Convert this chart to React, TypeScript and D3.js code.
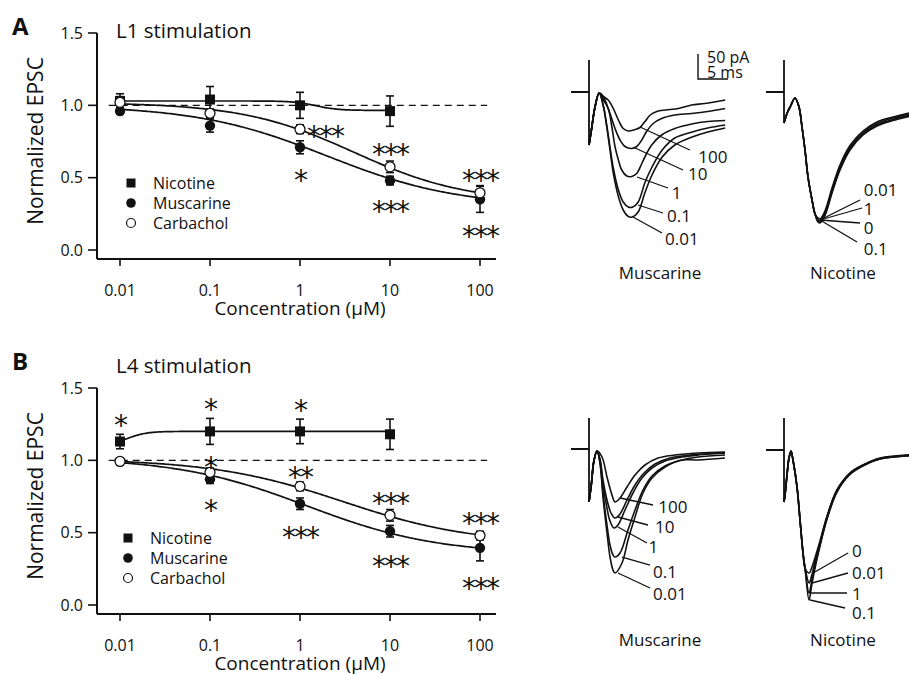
import React from "react";
import * as d3 from "d3";

const FONT = "'Open Sans', sans-serif";

// dose-response data (concentration in µM)
const concentrations = [0.01, 0.1, 1, 10, 100];
const xTickLabels = ["0.01", "0.1", "1", "10", "100"];
const yTicks = [0, 0.5, 1, 1.5];
const yTickLabels = ["0.0", "0.5", "1.0", "1.5"];
const seriesNames = ["Nicotine", "Muscarine", "Carbachol"];

const l1Nicotine = [1.03, 1.04, 1.0, 0.96];
const l1NicotineErr = [0.05, 0.09, 0.09, 0.105];
const l1Muscarine = [0.96, 0.86, 0.71, 0.48, 0.35];
const l1MuscarineErr = [0.02, 0.045, 0.045, 0.03, 0.09];
const l1Carbachol = [1.02, 0.945, 0.835, 0.575, 0.395];
const l1CarbacholErr = [0.04, 0.03, 0.03, 0.04, 0.05];
// fit parameters: [value at low conc, value at high conc, EC50, hill]
const l1Fits = [
  [1.03, 0.965, 1.5, 3.5],
  [1.0, 0.3, 2, 0.6],
  [1.02, 0.33, 4, 0.7],
];
const l1Stars: [number, number, string, string][] = [
  [1, 0.83, "***", "start"],
  [1, 0.53, "*", "middle"],
  [10, 0.705, "***", "middle"],
  [10, 0.31, "***", "middle"],
  [100, 0.53, "***", "middle"],
  [100, 0.14, "***", "middle"],
];

const l4Nicotine = [1.13, 1.2, 1.2, 1.18];
const l4NicotineErr = [0.05, 0.09, 0.085, 0.105];
const l4Muscarine = [0.99, 0.87, 0.7, 0.51, 0.395];
const l4MuscarineErr = [0.02, 0.03, 0.04, 0.04, 0.09];
const l4Carbachol = [0.993, 0.917, 0.82, 0.62, 0.48];
const l4CarbacholErr = [0.02, 0.03, 0.03, 0.04, 0.03];
const l4Fits = [
  [1.1, 1.2, 0.012, 4],
  [1.02, 0.35, 1.2, 0.6],
  [1.01, 0.42, 3, 0.6],
];
const l4Stars: [number, number, string, string][] = [
  [0.01, 1.285, "*", "middle"],
  [0.1, 1.4, "*", "middle"],
  [0.1, 0.998, "*", "middle"],
  [0.1, 0.7, "*", "middle"],
  [1, 1.39, "*", "middle"],
  [1, 0.93, "**", "middle"],
  [1, 0.51, "***", "middle"],
  [10, 0.745, "***", "middle"],
  [10, 0.315, "***", "middle"],
  [100, 0.61, "***", "middle"],
  [100, 0.16, "***", "middle"],
];

// example EPSC traces: [time ms, current pA]
const muscL1Onset = [[-3, 0], [-0.15, 0], [0, 0], [0, 64], [0, -106]];
const muscL1Start = [[0, -106], [0.4, -76], [1.0, -30], [1.7, -2]];
const muscL1Labels = ["100", "10", "1", "0.1", "0.01"];
const muscL1Traces = [
  [[2.4, -9], [3.2, -16], [4.05, -33], [4.9, -56], [5.7, -73], [6.55, -78], [7.67, -75], [8.5, -71], [9.33, -59], [10.2, -46], [11.3, -39], [12.7, -36], [14.9, -33], [17.1, -26], [19.3, -23], [22.7, -16]],
  [[2.4, -10], [3.5, -43], [4.33, -73], [5.17, -96], [6, -109], [7.1, -113], [7.95, -109], [8.8, -96], [9.6, -79], [10.7, -63], [12.1, -53], [14.3, -46], [17.1, -43], [19.8, -39], [22.7, -33]],
  [[2.4, -16], [3.2, -33], [3.8, -69], [4.33, -109], [4.9, -136], [5.45, -156], [6.3, -168], [7.1, -169], [7.95, -163], [8.8, -143], [9.6, -123], [10.45, -106], [12.1, -86], [14.3, -73], [17.1, -64], [19.8, -59], [22.7, -57]],
  [[2.4, -28], [2.95, -66], [3.5, -110], [4.05, -152], [4.9, -196], [5.7, -220], [6.55, -230], [7.3, -230], [8.2, -220], [9.3, -182], [10.5, -150], [12.2, -116], [14.3, -92], [17.2, -80], [19.8, -72], [22.7, -66]],
  [[2.4, -29], [2.95, -69], [3.5, -116], [4.05, -162], [4.9, -209], [5.7, -236], [6.55, -249], [7.2, -250], [8.2, -240], [9.3, -202], [10.5, -166], [12.2, -130], [14.3, -106], [17.2, -90], [19.8, -80], [22.7, -72]],
];
const muscL1Leaders = [[8.5, -70, 16.8, -116], [7.67, -112, 15.67, -156], [8, -170, 13.17, -192], [8.17, -226, 12.33, -242], [7.33, -250, 12.17, -282]];
const muscL1LabelPos = [[18.2, -128], [16.5, -162], [13.8, -200], [13, -246], [12.67, -292]];

const nicL1Onset = [[-3, 0], [-0.15, 0], [0, 0], [0, 64], [0, -62]];
const nicL1Start = [[0, -62], [0.6, -40], [1.1, -28], [1.83, -12], [2.5, -30], [3, -70], [3.5, -116], [4, -170], [4.67, -216], [5.17, -244]];
const nicL1Labels = ["0.01", "1", "0", "0.1"];
const nicL1Traces = [
  [[5.67, -252], [6, -254], [6.83, -238], [8, -192], [9.33, -146], [11, -107], [13.17, -78], [15.5, -60], [18.17, -50], [21.5, -40]],
  [[5.67, -256], [6, -258], [6.83, -242], [8, -197], [9.33, -151], [11, -111], [13.17, -81], [15.5, -63], [18.17, -52], [21.5, -42]],
  [[5.67, -258], [6, -260], [6.83, -245], [8, -200], [9.33, -154], [11, -114], [13.17, -84], [15.5, -66], [18.17, -55], [21.5, -45]],
  [[5.67, -260], [6, -262], [6.83, -247], [8, -202], [9.33, -156], [11, -116], [13.17, -86], [15.5, -68], [18.17, -57], [21.5, -47]],
];
const nicL1Leaders = [[6, -256, 12.67, -216], [6, -256, 13, -232], [6, -256, 12.67, -262], [6, -256, 12.17, -300]];
const nicL1LabelPos = [[13.3, -194], [13.3, -232], [13.3, -270], [13.3, -312]];

const muscL4Onset = [[-3, 0], [-0.15, 0], [0, 0], [0, 62], [0, -106]];
const muscL4Start = [[0, -106], [0.4, -70], [0.8, -25], [1.33, -4]];
const muscL4Labels = ["100", "10", "1", "0.1", "0.01"];
const muscL4Traces = [
  [[2.17, -16], [3, -56], [3.83, -92], [4.33, -106], [5.17, -98], [6.33, -76], [7.67, -52], [9.33, -32], [11.5, -18], [14.33, -12], [18.17, -8], [22.67, -6]],
  [[1.83, -20], [2.33, -62], [3, -102], [3.67, -128], [4.33, -138], [5.17, -130], [6.33, -102], [7.67, -72], [9.17, -48], [11, -30], [13.5, -18], [16.83, -12], [22.67, -8]],
  [[1.83, -22], [2.33, -72], [3, -118], [3.5, -144], [4.17, -158], [4.83, -152], [6, -122], [7.33, -88], [8.83, -58], [10.5, -38], [12.67, -24], [15.5, -16], [18.17, -12], [22.67, -8]],
  [[1.83, -26], [2.33, -88], [3, -152], [3.5, -192], [4, -212], [4.33, -216], [5.17, -208], [6.5, -162], [7.67, -122], [9, -82], [10.5, -54], [12.67, -34], [15.5, -22], [18.17, -16], [22.67, -12]],
  [[1.83, -28], [2.33, -96], [3, -168], [3.5, -216], [4, -242], [4.33, -248], [5.5, -228], [6.5, -182], [7.67, -136], [9, -88], [10.5, -58], [12.67, -36], [15.5, -22], [18.17, -22], [22.67, -18]],
];
const muscL4Leaders = [[5.17, -98, 10.67, -112], [4.83, -136, 9.83, -152], [4.83, -156, 9.67, -188], [5.5, -216, 10.17, -232], [4.83, -248, 10.17, -278]];
const muscL4LabelPos = [[11.55, -115], [11, -155], [9.9, -195], [10.67, -245], [10.67, -289]];

const nicL4Onset = [[-3, 0], [-0.15, 0], [0, 0], [0, 64], [0, -104]];
const nicL4Start = [[0, -104], [0.17, -90], [0.5, -50], [0.83, -16], [1.17, -2], [1.5, -20], [2.17, -74], [2.67, -140], [3.17, -206], [3.5, -236]];
const nicL4Labels = ["0", "0.01", "1", "0.1"];
const nicL4Traces = [
  [[4.2, -246], [4.6, -236], [5.0, -222], [6, -182], [7.17, -132], [8.83, -80], [11, -46], [13.17, -30], [16, -16], [21.5, -9]],
  [[4.2, -266], [4.6, -252], [5.0, -232], [6, -186], [7.17, -134], [8.83, -80], [11, -46], [13.17, -30], [16, -17], [21.5, -10]],
  [[4.17, -286], [4.6, -264], [5.0, -240], [6, -190], [7.17, -137], [8.83, -83], [11, -48], [13.17, -31], [16, -18], [21.5, -11]],
  [[4.17, -300], [4.6, -272], [5.0, -246], [6, -192], [7.17, -138], [8.83, -84], [11, -49], [13.17, -32], [16, -18], [21.5, -11]],
];
const nicL4Leaders = [[4.83, -246, 10.67, -206], [4.67, -266, 10.67, -246], [4.33, -286, 10.5, -286], [4.33, -300, 10.17, -316]];
const nicL4LabelPos = [[11.33, -200], [11.33, -244], [11.33, -286], [11.33, -324]];

// scale bar: 5 ms, 50 pA
const scaleBarMs = 5;
const scaleBarPA = 50;

const hill = (c: number, p: number[]) => p[1] + (p[0] - p[1]) / (1 + Math.pow(c / p[2], p[3]));

function DoseResponse(props: any) {
  const { offsetY, letter, letterY, title, titleY, nic, nicErr, musc, muscErr, carb, carbErr, fits, stars, legendX } = props;
  const x = d3.scaleLog().domain([0.01, 100]).range([120, 480]);
  const y = d3.scaleLinear().domain([0, 1.5]).range([250, 33]);
  const axisY = 259;
  const axisX = 97;
  const curvePath = (p: number[], maxC: number) => {
    const n = 200;
    const pts = d3.range(n + 1).map((i) => Math.pow(10, -2 + (i * (Math.log10(maxC) + 2)) / n));
    return d3.line<number>().x((c) => x(c)).y((c) => y(hill(c, p)))(pts) as string;
  };
  const errBar = (c: number, v: number, e: number, k: string) => (
    <g key={k} stroke="#111" strokeWidth={1.6}>
      <line x1={x(c)} x2={x(c)} y1={y(v + e)} y2={y(v - e)} />
      <line x1={x(c) - 4} x2={x(c) + 4} y1={y(v + e)} y2={y(v + e)} />
      <line x1={x(c) - 4} x2={x(c) + 4} y1={y(v - e)} y2={y(v - e)} />
    </g>
  );
  const starFs = 28;
  return (
    <g transform={`translate(0,${offsetY})`} fontFamily={FONT}>
      <text x={12} y={letterY} fontSize={24} fontWeight="bold" fill="#111">{letter}</text>
      <text x={116} y={titleY} fontSize={20.5} fill="#111">{title}</text>
      <text transform={`translate(43,141) rotate(-90)`} textAnchor="middle" fontSize={21} fill="#111">Normalized EPSC</text>
      <text x={(120 + 480) / 2} y={315} textAnchor="middle" fontSize={19} fill="#111">Concentration (µM)</text>
      {/* axes */}
      <line x1={axisX} x2={axisX} y1={y(1.5)} y2={axisY} stroke="#111" strokeWidth={2} />
      <line x1={axisX} x2={496} y1={axisY} y2={axisY} stroke="#111" strokeWidth={2} />
      {yTicks.map((t, i) => (
        <g key={"yt" + i}>
          <line x1={axisX - 9} x2={axisX} y1={y(t)} y2={y(t)} stroke="#111" strokeWidth={1.6} />
          <text x={83} y={y(t) + 5.5} textAnchor="end" fontSize={16} fill="#111">{yTickLabels[i]}</text>
        </g>
      ))}
      {concentrations.map((c, i) => (
        <g key={"xt" + i}>
          <line x1={x(c)} x2={x(c)} y1={axisY} y2={axisY + 7} stroke="#111" strokeWidth={1.6} />
          <text x={x(c)} y={296} textAnchor="middle" fontSize={16} fill="#111">{xTickLabels[i]}</text>
        </g>
      ))}
      {/* reference */}
      <line x1={x(0.0075)} x2={x(120)} y1={y(1)} y2={y(1)} stroke="#111" strokeWidth={1.4} strokeDasharray="7 5" />
      {/* fits */}
      <path d={curvePath(fits[0], 10)} fill="none" stroke="#111" strokeWidth={1.7} />
      <path d={curvePath(fits[1], 100)} fill="none" stroke="#111" strokeWidth={1.7} />
      <path d={curvePath(fits[2], 100)} fill="none" stroke="#111" strokeWidth={1.7} />
      {/* error bars */}
      {nic.map((v: number, i: number) => errBar(concentrations[i], v, nicErr[i], "en" + i))}
      {musc.map((v: number, i: number) => errBar(concentrations[i], v, muscErr[i], "em" + i))}
      {carb.map((v: number, i: number) => errBar(concentrations[i], v, carbErr[i], "ec" + i))}
      {/* markers */}
      {nic.map((v: number, i: number) => (
        <rect key={"n" + i} x={x(concentrations[i]) - 5} y={y(v) - 5} width={10} height={10} fill="#111" />
      ))}
      {musc.map((v: number, i: number) => (
        <circle key={"m" + i} cx={x(concentrations[i])} cy={y(v)} r={5.2} fill="#111" />
      ))}
      {carb.map((v: number, i: number) => (
        <circle key={"c" + i} cx={x(concentrations[i])} cy={y(v)} r={5} fill="#fff" stroke="#111" strokeWidth={1.3} />
      ))}
      {/* significance */}
      {stars.map((s: any, i: number) => (
        <text key={"s" + i} x={x(s[0]) + (s[3] === "start" ? 7 : 0)} y={y(s[1]) + starFs * 0.58}
          textAnchor={s[3]} fontSize={starFs} letterSpacing={-2} fontFamily="'DejaVu Sans', sans-serif" fill="#111">{s[2]}</text>
      ))}
      {/* legend */}
      <rect x={legendX - 4.5} y={183 - 4.5} width={9} height={9} fill="#111" />
      <circle cx={legendX} cy={203} r={4.8} fill="#111" />
      <circle cx={legendX} cy={223} r={4.5} fill="#fff" stroke="#111" strokeWidth={1.2} />
      {seriesNames.map((n, i) => (
        <text key={"l" + i} x={legendX + 22} y={189 + i * 20} fontSize={16} fill="#111">{n}</text>
      ))}
    </g>
  );
}

function TracePanel(props: any) {
  const { t0, base, onset, start, traces, labels, leaders, labelPos, title, titleX, titleY, scaleBar } = props;
  const x = d3.scaleLinear().domain([0, 1]).range([t0, t0 + 6]);
  const y = d3.scaleLinear().domain([0, -1]).range([base, base + 0.5]);
  const lin = d3.line<number[]>().x((d) => x(d[0])).y((d) => y(d[1]));
  const smooth = d3.line<number[]>().x((d) => x(d[0])).y((d) => y(d[1])).curve(d3.curveCatmullRom.alpha(0.5));
  return (
    <g fontFamily={FONT}>
      <path d={lin(onset) as string} fill="none" stroke="#111" strokeWidth={1.8} />
      {traces.map((tr: number[][], i: number) => (
        <path key={"tr" + i} d={smooth(start.concat(tr)) as string} fill="none" stroke="#111" strokeWidth={1.6} />
      ))}
      {leaders.map((l: number[], i: number) => (
        <line key={"ld" + i} x1={x(l[0])} y1={y(l[1])} x2={x(l[2])} y2={y(l[3])} stroke="#111" strokeWidth={1.3} />
      ))}
      {labels.map((s: string, i: number) => (
        <text key={"lb" + i} x={x(labelPos[i][0])} y={y(labelPos[i][1]) + 6.5} fontSize={17} fill="#111">{s}</text>
      ))}
      <text x={titleX} y={titleY} textAnchor="middle" fontSize={17} fill="#111">{title}</text>
      {scaleBar && (
        <g>
          <path d={lin([[18.17, 26 + scaleBarPA], [18.17, 26], [18.17 + scaleBarMs, 26]]) as string} fill="none" stroke="#111" strokeWidth={1.4} />
          <text x={x(19.67)} y={y(58)} fontSize={16} fill="#111">{scaleBarPA} pA</text>
          <text x={x(19.67)} y={y(28)} fontSize={16} fill="#111">{scaleBarMs} ms</text>
        </g>
      )}
    </g>
  );
}

export default function App() {
  return (
    <svg width={909} height={674} style={{ position: "absolute", left: 0, top: 0, background: "#fff" }}>
      <rect width={909} height={674} fill="#fff" />
      <DoseResponse offsetY={0} letter="A" letterY={35} title="L1 stimulation" titleY={38}
        nic={l1Nicotine} nicErr={l1NicotineErr} musc={l1Muscarine} muscErr={l1MuscarineErr}
        carb={l1Carbachol} carbErr={l1CarbacholErr} fits={l1Fits} stars={l1Stars} legendX={131} />
      <DoseResponse offsetY={355} letter="B" letterY={15} title="L4 stimulation" titleY={18}
        nic={l4Nicotine} nicErr={l4NicotineErr} musc={l4Muscarine} muscErr={l4MuscarineErr}
        carb={l4Carbachol} carbErr={l4CarbacholErr} fits={l4Fits} stars={l4Stars} legendX={128} />
      <TracePanel t0={589} base={92} onset={muscL1Onset} start={muscL1Start} traces={muscL1Traces}
        labels={muscL1Labels} leaders={muscL1Leaders} labelPos={muscL1LabelPos}
        title="Muscarine" titleX={660} titleY={279} scaleBar />
      <TracePanel t0={784} base={92} onset={nicL1Onset} start={nicL1Start} traces={nicL1Traces}
        labels={nicL1Labels} leaders={nicL1Leaders} labelPos={nicL1LabelPos}
        title="Nicotine" titleX={843} titleY={279} />
      <TracePanel t0={589} base={449} onset={muscL4Onset} start={muscL4Start} traces={muscL4Traces}
        labels={muscL4Labels} leaders={muscL4Leaders} labelPos={muscL4LabelPos}
        title="Muscarine" titleX={660} titleY={646} />
      <TracePanel t0={784} base={450} onset={nicL4Onset} start={nicL4Start} traces={nicL4Traces}
        labels={nicL4Labels} leaders={nicL4Leaders} labelPos={nicL4LabelPos}
        title="Nicotine" titleX={843} titleY={646} />
    </svg>
  );
}
